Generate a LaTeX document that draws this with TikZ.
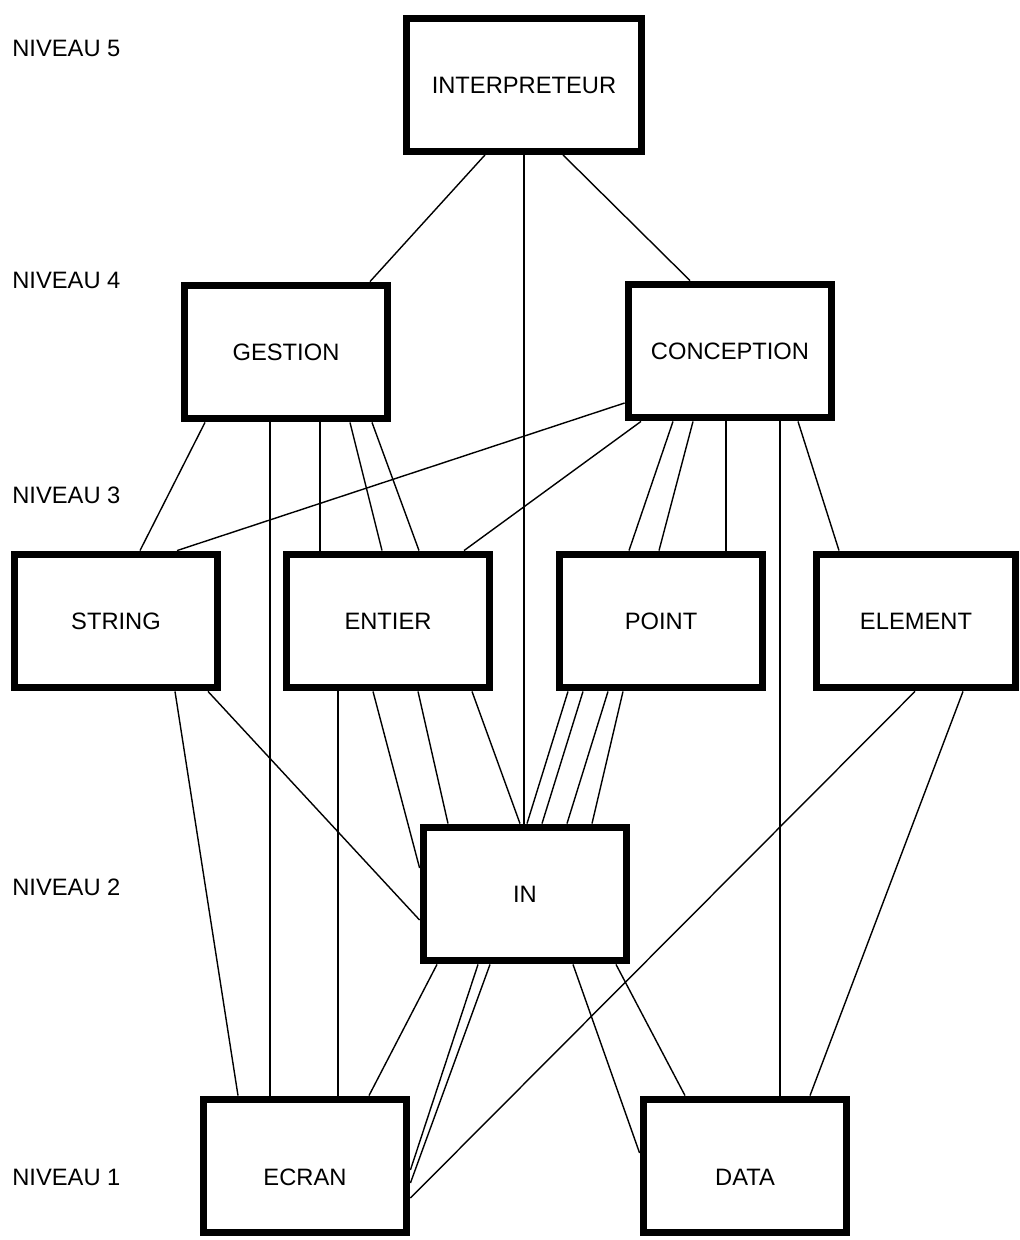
\documentclass[tikz,border=0pt]{standalone}
\usepackage{fontspec}
\setmainfont{Liberation Sans}
\usetikzlibrary{calc}

\begin{document}
\begin{tikzpicture}[x=0.02cm,y=-0.02cm,
    bloc/.style={draw,line width=4.2pt,fill=white,minimum width=4.07cm,minimum height=2.67cm,inner sep=0pt,font=\fontsize{13.5}{15}\selectfont},
    bas/.style={text height=0.78cm,text depth=0pt},
    niveau/.style={anchor=west,inner sep=0pt,font=\fontsize{13.5}{15}\selectfont},
    lien/.style={line width=0.8pt}]
    \useasboundingbox (0,0) rectangle (1020,1240);
    \node[niveau] (niv5) at (12,48) {NIVEAU 5};
    \node[niveau] (niv4) at (12,280) {NIVEAU 4};
    \node[niveau] (niv3) at (12,495) {NIVEAU 3};
    \node[niveau] (niv2) at (12,887) {NIVEAU 2};
    \node[niveau] (niv1) at (12,1177) {NIVEAU 1};
    \node[bloc,minimum width=4.69cm,minimum height=2.65cm] (interp) at (524,85) {INTERPRETEUR};
    \node[bloc] (gestion) at (286,352) {GESTION};
    \node[bloc] (conception) at (730,351) {CONCEPTION};
    \node[bloc] (string) at (116,621) {STRING};
    \node[bloc] (entier) at (388,621) {ENTIER};
    \node[bloc] (point) at (661,621) {POINT};
    \node[bloc,minimum width=3.97cm] (element) at (916,621) {ELEMENT};
    \node[bloc] (inmod) at (525,894) {IN};
    \node[bloc,bas] (ecran) at (305,1166) {ECRAN};
    \node[bloc,bas] (data) at (745,1166) {DATA};
    \draw[lien] ($(interp.south)+(-39,0)$) -- ($(gestion.north)+(84,0)$);
    \draw[lien] (interp.south) -- (interp.south |- inmod.north);
    \draw[lien] ($(interp.south)+(39,0)$) -- ($(conception.north)+(-40,0)$);
    \draw[lien] ($(gestion.south)+(-81,0)$) -- ($(string.north)+(24,0)$);
    \draw[lien] ($(gestion.south)+(-16,0)$) -- ($(ecran.north)+(-35,0)$);
    \foreach \a/\b in {34/-68,64/-6,86/31}
        \draw[lien] ($(gestion.south)+(\a,0)$) -- ($(entier.north)+(\b,0)$);
    \draw[lien] ($(conception.west)+(0,52)$) -- ($(string.north)+(61,0)$);
    \draw[lien] ($(conception.south)+(-89,0)$) -- ($(entier.north)+(76,0)$);
    \foreach \a/\b in {-57/-32,-37/-2,-4/65}
        \draw[lien] ($(conception.south)+(\a,0)$) -- ($(point.north)+(\b,0)$);
    \draw[lien] ($(conception.south)+(50,0)$) -- ($(data.north)+(35,0)$);
    \draw[lien] ($(conception.south)+(68,0)$) -- ($(element.north)+(-77,0)$);
    \draw[lien] ($(string.south)+(59,0)$) -- ($(ecran.north)+(-67,0)$);
    \draw[lien] ($(string.south)+(92,0)$) -- ($(inmod.west)+(0,26)$);
    \draw[lien] ($(entier.south)+(-50,0)$) -- ($(ecran.north)+(33,0)$);
    \draw[lien] ($(entier.south)+(-15,0)$) -- ($(inmod.west)+(0,-26)$);
    \draw[lien] ($(entier.south)+(30,0)$) -- ($(inmod.north)+(-77,0)$);
    \draw[lien] ($(entier.south)+(84,0)$) -- ($(inmod.north)+(-5,0)$);
    \foreach \a/\b in {-93/2,-78/17,-53/42,-38/67}
        \draw[lien] ($(point.south)+(\a,0)$) -- ($(inmod.north)+(\b,0)$);
    \draw[lien] ($(element.south)+(-1,0)$) -- ($(ecran.east)+(0,32)$);
    \draw[lien] ($(element.south)+(47,0)$) -- ($(data.north)+(65,0)$);
    \draw[lien] ($(inmod.south)+(-88,0)$) -- ($(ecran.north)+(64,0)$);
    \draw[lien] ($(inmod.south)+(-47,0)$) -- ($(ecran.east)+(0,4)$);
    \draw[lien] ($(inmod.south)+(-35,0)$) -- ($(ecran.east)+(0,17)$);
    \draw[lien] ($(inmod.south)+(48,0)$) -- ($(data.west)+(0,-13)$);
    \draw[lien] ($(inmod.south)+(91,0)$) -- ($(data.north)+(-60,0)$);
\end{tikzpicture}
\end{document}
